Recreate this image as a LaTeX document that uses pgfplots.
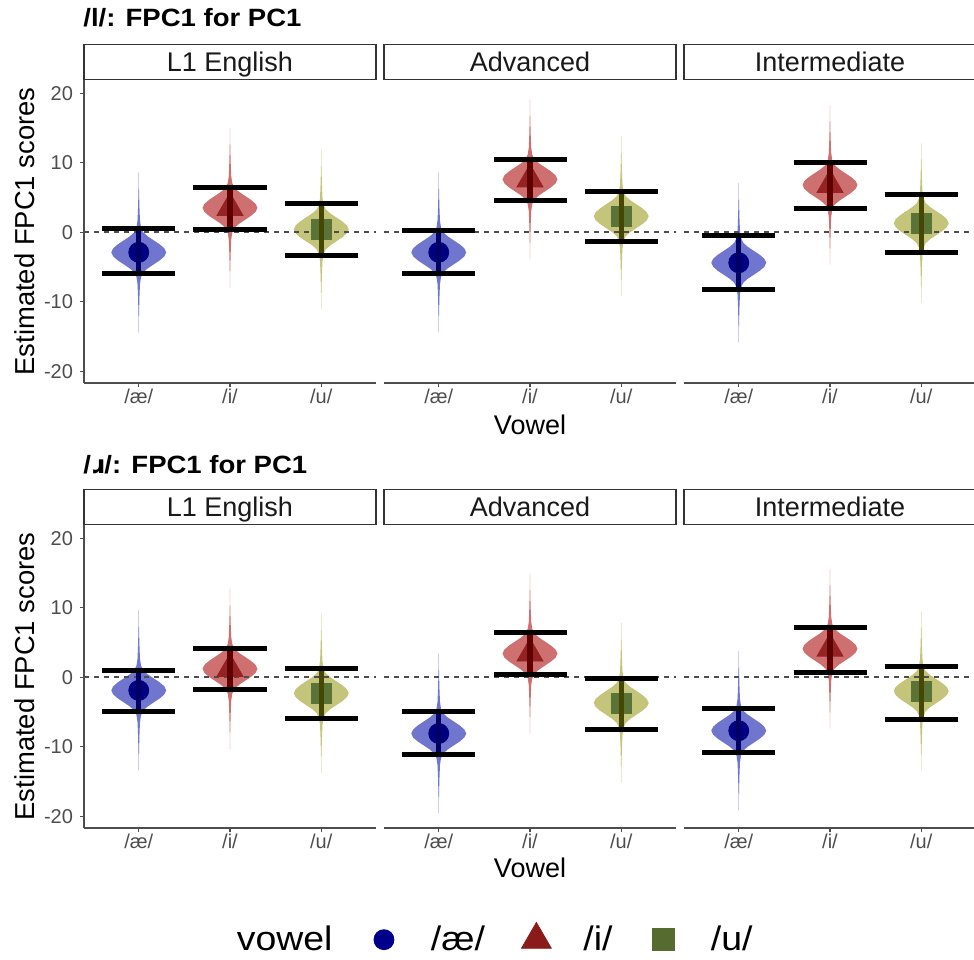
\documentclass[border=0pt]{standalone}
\usepackage{pgfplots}
\pgfplotsset{compat=1.18}
\usepackage{pgfplotstable}
\usepackage{fontspec}
\setmainfont{Liberation Sans}
\newfontfamily\widefont[FakeStretch=1.1]{Liberation Sans}
\newfontfamily\ipafont{DejaVu Sans}
\usetikzlibrary{plotmarks}

\definecolor{vioA}{RGB}{112,117,206}
\definecolor{vioI}{RGB}{206,112,112}
\definecolor{vioU}{RGB}{196,196,122}
\definecolor{mkA}{RGB}{0,0,128}
\definecolor{mkI}{RGB}{150,35,35}
\definecolor{mkU}{RGB}{90,115,55}
\definecolor{lnA}{RGB}{0,0,100}
\definecolor{lnI}{RGB}{95,0,0}
\definecolor{lnU}{RGB}{70,70,5}
\definecolor{legA}{RGB}{0,0,139}
\definecolor{legI}{RGB}{139,26,26}
\definecolor{legU}{RGB}{85,107,47}
\definecolor{axgray}{RGB}{77,77,77}
\definecolor{stripgray}{RGB}{51,51,51}

\def\vp#1#2{\pgfpathlineto{\pgfqpoint{#1pt}{#2pt}}}
\pgfdeclareplotmark{violin}{%
  \pgfpathmoveto{\pgfqpoint{0pt}{40pt}}%
  \vp{0.15}{30}\vp{0.35}{22.5}\vp{0.6}{16}\vp{1.1}{12.5}\vp{2.25}{10}%
  \vp{4.5}{8}\vp{7.5}{6}\vp{10.5}{4}\vp{12.8}{2}\vp{13.75}{0}%
  \vp{12.8}{-2}\vp{10.5}{-4}\vp{7.5}{-6}\vp{4.5}{-8}\vp{2.25}{-10}%
  \vp{1.1}{-12.5}\vp{0.6}{-16}\vp{0.35}{-22.5}\vp{0.15}{-30}\vp{0}{-40}%
  \vp{-0.15}{-30}\vp{-0.35}{-22.5}\vp{-0.6}{-16}\vp{-1.1}{-12.5}\vp{-2.25}{-10}%
  \vp{-4.5}{-8}\vp{-7.5}{-6}\vp{-10.5}{-4}\vp{-12.8}{-2}\vp{-13.75}{0}%
  \vp{-12.8}{2}\vp{-10.5}{4}\vp{-7.5}{6}\vp{-4.5}{8}\vp{-2.25}{10}%
  \vp{-1.1}{12.5}\vp{-0.6}{16}\vp{-0.35}{22.5}\vp{-0.15}{30}%
  \pgfpathclose
  \pgfusepathqfill
}

% columns: x = vowel (1 /ae/, 2 /i/, 3 /u/), c = estimate, up/lo = interval bars
\pgfplotstableread{
x c up lo
1 -2.9 0.6 -6.0
2 3.5 6.5 0.4
3 0.4 4.2 -3.3
}\tA
\pgfplotstableread{
x c up lo
1 -2.9 0.2 -6.0
2 7.6 10.5 4.6
3 2.3 5.9 -1.3
}\tB
\pgfplotstableread{
x c up lo
1 -4.4 -0.5 -8.2
2 6.8 10.0 3.4
3 1.3 5.4 -2.9
}\tC
\pgfplotstableread{
x c up lo
1 -1.9 1.0 -5.0
2 1.2 4.2 -1.8
3 -2.3 1.3 -6.0
}\bA
\pgfplotstableread{
x c up lo
1 -8.1 -5.0 -11.1
2 3.4 6.4 0.4
3 -3.7 -0.2 -7.5
}\bB
\pgfplotstableread{
x c up lo
1 -7.7 -4.5 -10.9
2 4.1 7.2 0.7
3 -2.0 1.6 -6.1
}\bC

\pgfplotsset{
  legend image code/.code={\path (-8.5pt,0pt) (8.5pt,0pt); \draw[#1] plot coordinates {(0pt,0pt)};},
  panel/.style={
    scale only axis, width=146pt, height=151.5pt, anchor=south west,
    xmin=0.4, xmax=3.6, ymin=-21.7, ymax=21.9,
    xtick={1,2,3}, xticklabels={/æ/,/i/,/u/},
    ytick={-20,-10,0,10,20}, yticklabels={-20,-10,0,10,20},
    tick align=outside, major tick length=2pt,
    axis line style={draw=axgray, line width=0.6pt},
    every tick/.style={draw=axgray, line width=0.6pt},
    tick label style={font=\fontsize{10}{12}\selectfont, text=axgray},
    xticklabel style={yshift=2.5pt},
    every axis title/.style={at={(axis description cs:0.5,1)}, anchor=south,
      draw=stripgray, line width=0.6pt, minimum width=146pt, minimum height=17.5pt,
      inner sep=0pt, text height=9.7pt, text depth=0pt,
      font=\fontsize{13.5}{16}\selectfont, text=black!90},
    clip=false, clip marker paths=true,
  },
  firstcol/.style={axis lines*=left,
    every axis y label/.style={at={(axis description cs:-0.202,0.5)}, anchor=center,
      rotate=90, font=\fontsize{13.7}{16}\selectfont},
    ylabel={Estimated FPC1 scores}},
  othercol/.style={axis x line*=bottom, axis y line=none, ytick=\empty},
  vowellabel/.style={xlabel={Vowel},
    every axis x label/.style={at={(axis description cs:0.5,0)}, anchor=center,
      yshift=-#1, font=\fontsize{13.5}{16}\selectfont}},
  zeroline/.style={dash pattern=on 2.5pt off 2.5pt, line width=0.7pt, color=axgray, mark=none},
  cibar/.style={only marks, mark=-, mark size=18.25pt, mark options={line width=2.5pt, draw=black}},
}

\newcommand{\ciline}[3]{%
  \addplot[draw=#2, line width=2.6pt, mark=none, restrict x to domain=#3,
    quiver={u=0, v=\thisrow{up}-\thisrow{lo}}] table[x=x, y=lo]{#1};}

\newcommand{\panel}[5]{%
\begin{axis}[panel, at={(#2)}, title={#3}, #4]
  #5
  \addplot[only marks, mark=violin, color=vioA, restrict x to domain=0.5:1.5] table[x=x,y=c]{#1};
  \addplot[only marks, mark=violin, color=vioI, restrict x to domain=1.5:2.5] table[x=x,y=c]{#1};
  \addplot[only marks, mark=violin, color=vioU, restrict x to domain=2.5:3.5] table[x=x,y=c]{#1};
  \addplot[zeroline] coordinates {(0.4,0) (3.6,0)};
  \addplot[only marks, mark=*, mark size=5pt, color=mkA, restrict x to domain=0.5:1.5] table[x=x,y=c]{#1};
  \addplot[only marks, mark=triangle*, mark size=7.5pt, color=mkI, restrict x to domain=1.5:2.5] table[x=x,y=c]{#1};
  \addplot[only marks, mark=square*, mark size=5pt, color=mkU, restrict x to domain=2.5:3.5] table[x=x,y=c]{#1};
  \ciline{#1}{lnA}{0.5:1.5}
  \ciline{#1}{lnI}{1.5:2.5}
  \ciline{#1}{lnU}{2.5:3.5}
  \addplot[cibar] table[x=x,y=up]{#1};
  \addplot[cibar] table[x=x,y=lo]{#1};
\end{axis}}

\begin{document}
\begin{tikzpicture}
\useasboundingbox (0,0) rectangle (487pt,479.5pt);

\node[anchor=west, inner sep=0pt, font=\widefont\bfseries\fontsize{12.5}{14}\selectfont] at (41.5pt,470.5pt) {/l/: FPC1 for PC1};
\node[anchor=west, inner sep=0pt, font=\widefont\bfseries\fontsize{12.5}{14}\selectfont] at (41.5pt,247pt) {/{\ipafont ɹ}/: FPC1 for PC1};

\panel{\tA}{42pt,288pt}{L1 English}{firstcol}{}
\panel{\tB}{192pt,288pt}{Advanced}{othercol, vowellabel=21pt}{}
\panel{\tC}{342pt,288pt}{Intermediate}{othercol}{}

\panel{\bA}{42pt,65.5pt}{L1 English}{firstcol}{}
\panel{\bB}{192pt,65.5pt}{Advanced}{othercol, vowellabel=20pt,
  legend columns=-1,
  legend style={at={(axis description cs:-0.605,-0.363)}, anchor=west, draw=none, fill=none,
    inner sep=0pt, outer sep=0pt, font=\widefont\fontsize{17}{20}\selectfont,
    nodes={inner sep=0pt},
    /tikz/every odd column/.append style={column sep=14.8pt},
    /tikz/every even column/.append style={column sep=17pt}}}{%
  \addlegendimage{empty legend}
  \addlegendimage{only marks, mark=*, mark size=5pt, color=legA}
  \addlegendimage{only marks, mark=triangle*, mark size=8.6pt, color=legI}
  \addlegendimage{only marks, mark=square*, mark size=5.5pt, color=legU}
  \legend{vowel,/æ/,/i/,/u/}}
\panel{\bC}{342pt,65.5pt}{Intermediate}{othercol}{}
\end{tikzpicture}
\end{document}
